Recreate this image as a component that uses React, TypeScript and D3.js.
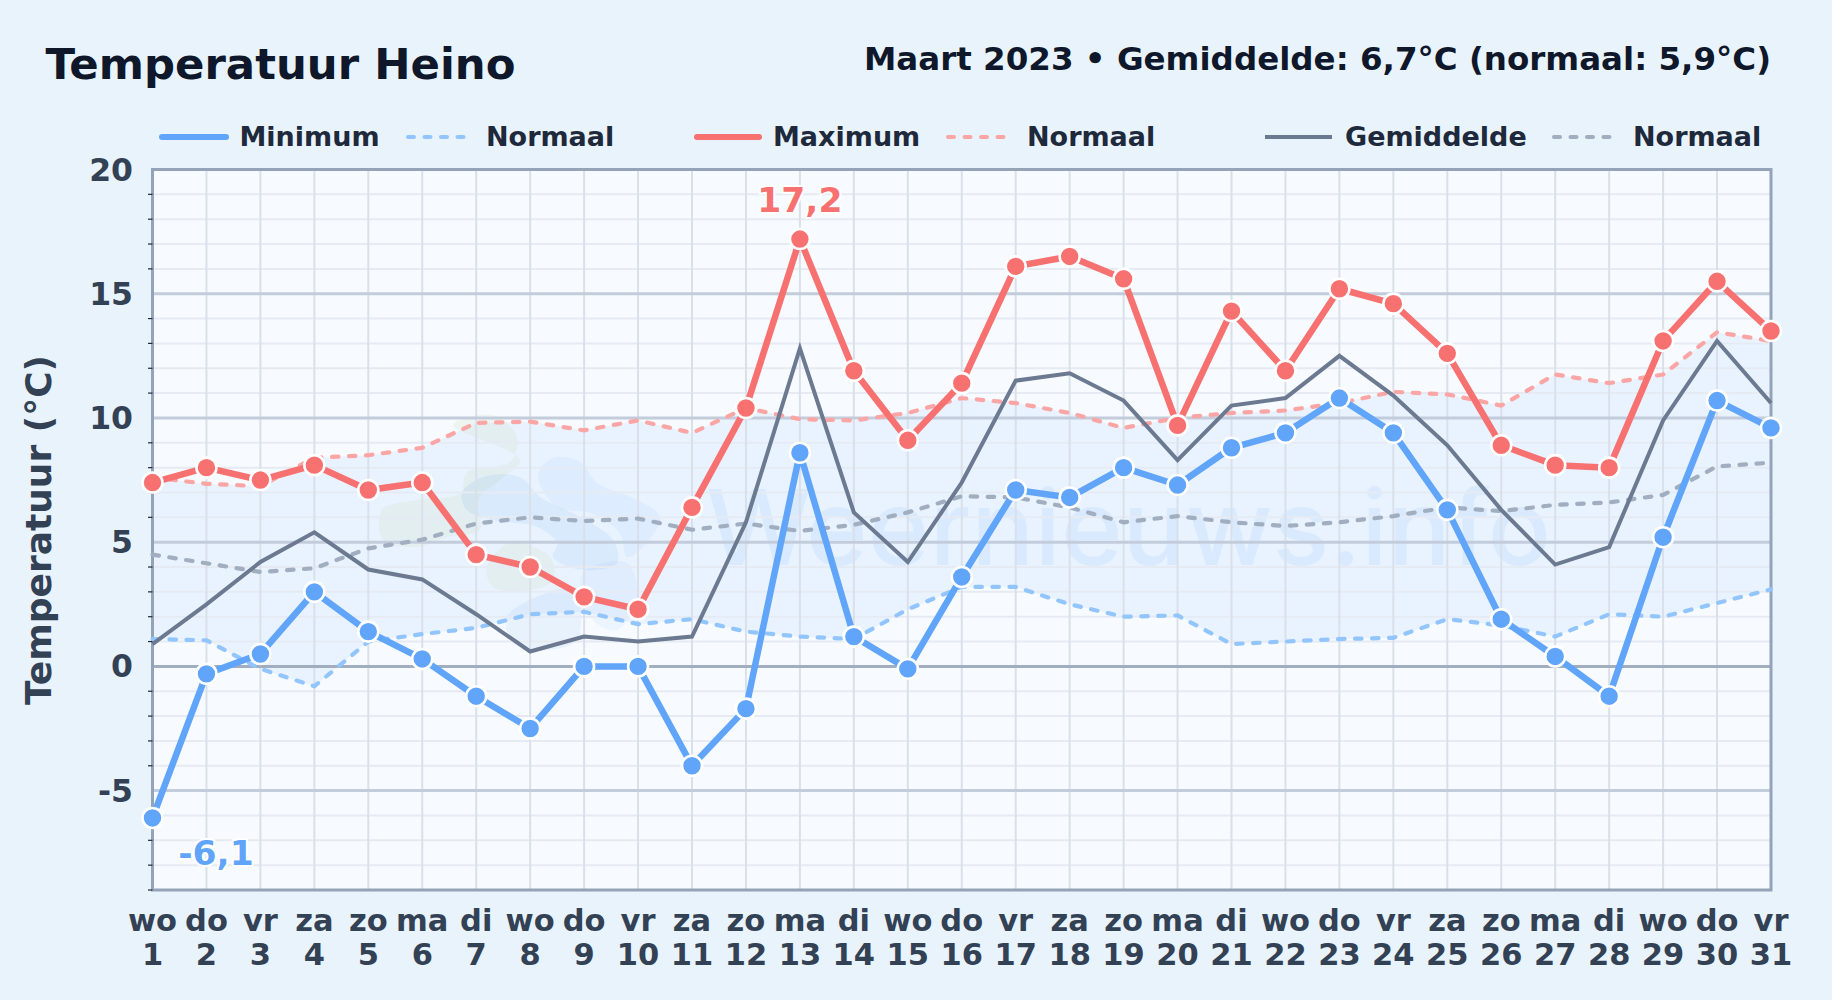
import * as d3 from "d3";

// Temperatuur Heino, maart 2023
const DAYS = ["wo","do","vr","za","zo","ma","di","wo","do","vr","za","zo","ma","di","wo","do","vr","za","zo","ma","di","wo","do","vr","za","zo","ma","di","wo","do","vr"];
const DATES = d3.range(1, 32);
const T_MIN = [-6.1,-0.3,0.5,3.0,1.4,0.3,-1.2,-2.5,0,0,-4.0,-1.7,8.6,1.2,-0.1,3.6,7.1,6.8,8.0,7.3,8.8,9.4,10.8,9.4,6.3,1.9,0.4,-1.2,5.2,10.7,9.6];
const T_MAX = [7.4,8.0,7.5,8.1,7.1,7.4,4.5,4.0,2.8,2.3,6.4,10.4,17.2,11.9,9.1,11.4,16.1,16.5,15.6,9.7,14.3,11.9,15.2,14.6,12.6,8.9,8.1,8.0,13.1,15.5,13.5];
const T_AVG = [0.9,2.5,4.2,5.4,3.9,3.5,2.1,0.6,1.2,1.0,1.2,5.8,12.8,6.2,4.2,7.4,11.5,11.8,10.7,8.3,10.5,10.8,12.5,10.9,8.9,6.3,4.1,4.8,9.9,13.1,10.6];
const NORM_MIN = [1.1,1.05,-0.1,-0.8,1.0,1.3,1.55,2.1,2.2,1.7,1.9,1.4,1.2,1.1,2.3,3.2,3.2,2.5,2.0,2.05,0.9,1.0,1.1,1.15,1.9,1.65,1.2,2.1,2.0,2.55,3.1];
const NORM_MAX = [7.6,7.35,7.25,8.4,8.5,8.8,9.8,9.85,9.5,9.9,9.4,10.4,9.95,9.9,10.2,10.8,10.6,10.2,9.6,10.0,10.2,10.3,10.6,11.05,10.95,10.5,11.75,11.4,11.75,13.45,13.1];
const NORM_AVG = [4.5,4.15,3.8,3.95,4.75,5.1,5.75,6.0,5.85,5.95,5.5,5.75,5.45,5.7,6.2,6.85,6.8,6.4,5.8,6.05,5.8,5.65,5.8,6.05,6.4,6.25,6.5,6.6,6.9,8.05,8.2];
const Y_TICKS = [-5, 0, 5, 10, 15, 20];

const FONT = "'DejaVu Sans', sans-serif";
const C_MIN = "#60a5fa";
const C_MAX = "#f87171";
const C_AVG = "#6b7a90";

const LEGEND = [
  { label: "Minimum", color: C_MIN, x0: 162, x1: 226, w: 6, dash: false, tx: 239.5 },
  { label: "Normaal", color: "#93c5fd", x0: 408, x1: 464, w: 4, dash: true, tx: 486 },
  { label: "Maximum", color: C_MAX, x0: 697, x1: 759, w: 6, dash: false, tx: 773 },
  { label: "Normaal", color: "#fca5a5", x0: 948, x1: 1005, w: 4, dash: true, tx: 1027 },
  { label: "Gemiddelde", color: C_AVG, x0: 1265, x1: 1332, w: 4, dash: false, tx: 1345 },
  { label: "Normaal", color: "#a0aec0", x0: 1554, x1: 1618, w: 4, dash: true, tx: 1633 },
];

// logo blobs of the watermark, [x, y] in page pixels
const BLOBS: { fill: string; op: number; pts: [number, number][] }[] = [
  { fill: "#a3c76d", op: 0.1, pts: [[453,425],[493,415],[517,437],[510,462],[467,472],[460,493],[417,500],[382,510],[383,540],[417,547],[447,537],[480,530],[478,500],[500,480],[520,460]] },
  { fill: "#a3c76d", op: 0.1, pts: [[487,567],[510,543],[550,557],[553,580],[530,590],[493,587]] },
  { fill: "#2b7fd6", op: 0.08, pts: [[462,493],[483,477],[520,477],[540,497],[580,517],[613,540],[617,563],[583,570],[553,557],[557,543],[537,527],[493,520],[467,510]] },
  { fill: "#60a5fa", op: 0.09, pts: [[538,475],[553,458],[580,462],[597,483],[637,500],[660,517],[643,547],[627,557],[620,533],[590,513],[557,507]] },
  { fill: "#2b7fd6", op: 0.07, pts: [[507,617],[530,600],[573,590],[577,640],[530,650],[510,640]] },
  { fill: "#60a5fa", op: 0.07, pts: [[583,573],[627,563],[637,597],[617,630],[590,617]] },
];

export default function App() {
  const x = d3.scaleLinear().domain([1, 31]).range([152.5, 1771]);
  const y = d3.scaleLinear().domain([-9, 20]).range([890, 169.5]);

  const line = (vals: number[]) =>
    d3.line<number>().x((_, i) => x(i + 1)).y((d) => y(d))(vals) ?? "";
  const band = (lo: number[], hi: number[]) =>
    d3.area<number>().x((_, i) => x(i + 1)).y0((d) => y(d)).y1((_, i) => y(hi[i]))(lo) ?? "";
  const blob = d3.line().curve(d3.curveCatmullRomClosed.alpha(0.5));

  const minor = d3.range(-9, 21).filter((v) => v % 5 !== 0);

  return (
    <svg width={1832} height={1000} style={{ position: "absolute", left: 0, top: 0 }} fontFamily={FONT}>
      <rect width={1832} height={1000} fill="#e8f3fc" />
      <text x={45.5} y={79} fontSize={43.4} fontWeight={700} fill="#0f172a">Temperatuur Heino</text>
      <text x={1771} y={70} fontSize={32.5} fontWeight={700} fill="#0f172a" textAnchor="end">
        Maart 2023 • Gemiddelde: 6,7°C (normaal: 5,9°C)
      </text>

      {LEGEND.map((l, i) => (
        <g key={i}>
          <line x1={l.x0} x2={l.x1} y1={137} y2={137} stroke={l.color} strokeWidth={l.w}
            strokeLinecap={l.label === "Gemiddelde" ? "butt" : "round"}
            strokeDasharray={l.dash ? "6 10.5" : undefined} />
          <text x={l.tx} y={146} fontSize={27} fontWeight={700} fill="#1e293b">{l.label}</text>
        </g>
      ))}

      <rect x={x(1)} y={y(20)} width={x(31) - x(1)} height={y(-9) - y(20)} fill="#f7fbff" />

      {/* normaal-band */}
      <path d={band(NORM_MIN, NORM_MAX)} fill="#60a5fa" opacity={0.085} />

      {/* watermerk */}
      {BLOBS.map((b, i) => (
        <path key={i} d={blob(b.pts) ?? ""} fill={b.fill} opacity={b.op} />
      ))}
      <text x={706} y={565} fontSize={105} fontFamily="Inter, sans-serif" fontWeight={500} fill="#60a5fa" opacity={0.1}>Weernieuws.info</text>

      {/* raster */}
      {minor.map((v) => (
        <line key={v} x1={x(1)} x2={x(31)} y1={y(v)} y2={y(v)} stroke="#e6ebf3" strokeWidth={2} />
      ))}
      {DATES.map((d) => (
        <line key={d} x1={x(d)} x2={x(d)} y1={y(20)} y2={y(-9)} stroke="#d9e0ea" strokeWidth={2} />
      ))}
      {Y_TICKS.filter((v) => v !== 0 && v !== 20).map((v) => (
        <line key={v} x1={x(1)} x2={x(31)} y1={y(v)} y2={y(v)} stroke="#c3ccdb" strokeWidth={3} />
      ))}
      <line x1={x(1)} x2={x(31)} y1={y(0)} y2={y(0)} stroke="#a0aec0" strokeWidth={3} />

      <rect x={x(1)} y={y(20)} width={x(31) - x(1)} height={y(-9) - y(20)} fill="none" stroke="#94a3b8" strokeWidth={3} />

      {minor.map((v) => (
        <line key={v} x1={x(1) - 4.5} x2={x(1)} y1={y(v)} y2={y(v)} stroke="#1e293b" strokeWidth={1.2} />
      ))}

      {/* normalen */}
      <path d={line(NORM_MIN)} fill="none" stroke="#93c5fd" strokeWidth={4.2} strokeDasharray="6.5 10.5" strokeLinecap="round" />
      <path d={line(NORM_MAX)} fill="none" stroke="#fca5a5" strokeWidth={4.2} strokeDasharray="6.5 10.5" strokeLinecap="round" />
      <path d={line(NORM_AVG)} fill="none" stroke="#a0aec0" strokeWidth={4.2} strokeDasharray="6.5 10.5" strokeLinecap="round" />

      <path d={line(T_AVG)} fill="none" stroke={C_AVG} strokeWidth={4} />
      <path d={line(T_MIN)} fill="none" stroke={C_MIN} strokeWidth={6.5} strokeLinejoin="round" />
      <path d={line(T_MAX)} fill="none" stroke={C_MAX} strokeWidth={6.5} strokeLinejoin="round" />

      {T_MIN.map((v, i) => (
        <circle key={i} cx={x(i + 1)} cy={y(v)} r={10} fill={C_MIN} stroke="#fff" strokeWidth={2.6} />
      ))}
      {T_MAX.map((v, i) => (
        <circle key={i} cx={x(i + 1)} cy={y(v)} r={10} fill={C_MAX} stroke="#fff" strokeWidth={2.6} />
      ))}

      <text x={x(13)} y={212} textAnchor="middle" fontSize={34.5} fontWeight={700} fill={C_MAX}
        stroke="#fff" strokeWidth={4} paintOrder="stroke">17,2</text>
      <text x={216} y={865} textAnchor="middle" fontSize={34.5} fontWeight={700} fill={C_MIN}
        stroke="#fff" strokeWidth={4} paintOrder="stroke">-6,1</text>

      {Y_TICKS.map((v) => (
        <text key={v} x={133} y={y(v) + 11} textAnchor="end" fontSize={31.5} fontWeight={700} fill="#334155">{v}</text>
      ))}
      {DATES.map((d, i) => (
        <g key={d} fontSize={30.5} fontWeight={700} fill="#334155" textAnchor="middle">
          <text x={x(d)} y={931}>{DAYS[i]}</text>
          <text x={x(d)} y={965}>{d}</text>
        </g>
      ))}
      <text transform="translate(51,530) rotate(-90)" textAnchor="middle" fontSize={36} fontWeight={700} fill="#334155">Temperatuur (°C)</text>
    </svg>
  );
}
